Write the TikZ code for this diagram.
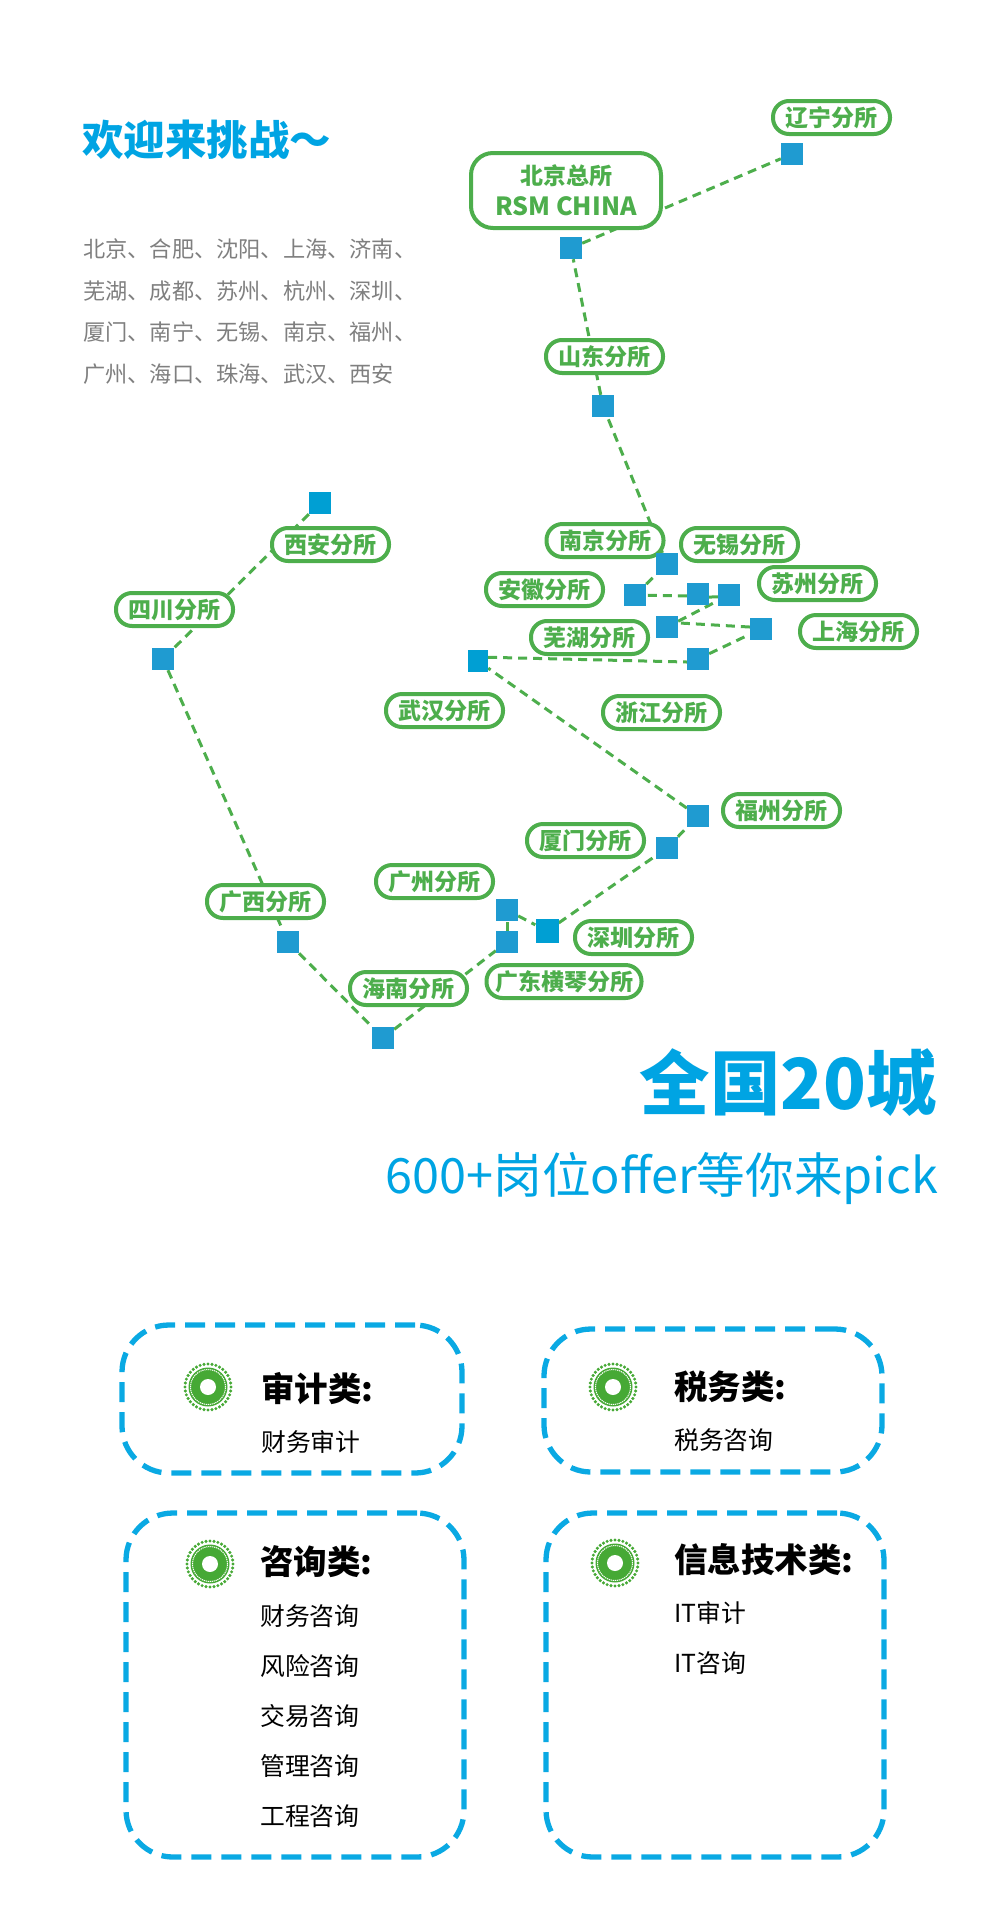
\documentclass[tikz,border=0pt]{standalone}
\usepackage{fontspec}
\setmainfont{Noto Sans CJK SC}
\definecolor{pg}{HTML}{4DAE4C}
\definecolor{sqa}{HTML}{1F9BD1}
\definecolor{sqb}{HTML}{009FD3}
\definecolor{tb}{HTML}{00A4E3}
\definecolor{db}{HTML}{0AA9E3}
\definecolor{ic}{HTML}{46A935}
\definecolor{gr}{HTML}{7F7F7F}
\pgfdeclarelayer{conn}
\pgfdeclarelayer{pill}
\pgfsetlayers{conn,pill,main}
\newcommand{\fs}[1]{\fontsize{#1}{#1}\selectfont}
\tikzset{
  x=1pt,y=-1pt,
  sq/.style={rectangle,fill=sqa,draw=none,inner sep=0,minimum width=22pt,minimum height=22pt},
  sqdark/.style={sq,fill=sqb},
  link/.style={draw=pg,line width=3pt,dash pattern=on 9pt off 6pt},
  pillbox/.style={rectangle,rounded corners=16pt,draw=pg,fill=white,line width=4pt,inner sep=0,
    minimum width=117pt,minimum height=33pt,text=pg,font=\fs{23}\bfseries},
  dbox/.style={rectangle,rounded corners=47pt,draw=db,line width=5.3pt,dash pattern=on 20pt off 10pt,inner sep=0},
  head/.style={anchor=west,font=\fs{33.5}\bfseries,text=black,inner sep=0},
  item/.style={anchor=west,font=\fs{24.8},text=black,inner sep=0},
  target/.pic={
    \fill[ic] (0,0) circle (19.5pt);
    \draw[white,line width=1pt,dash pattern=on 1.2pt off 0.8pt] (0,0) circle (17.5pt);
    \fill[white] (0,0) circle (8pt);
    \foreach \a in {0,10,...,350}{\fill[ic] (\a:23pt) circle (1.7pt);}
  }
}
\begin{document}
\begin{tikzpicture}
\useasboundingbox (0,0) rectangle (1000,1919);
% squares
\node[sqdark] (sXian) at (320,503) {};
\node[sq] (sSichuan) at (163,659) {};
\node[sq] (sGuangxi) at (288,942) {};
\node[sq] (sHainan) at (383,1038) {};
\node[sq] (sHengqin) at (507,942) {};
\node[sq] (sGuangzhou) at (507,910) {};
\node[sqdark,minimum width=23pt,minimum height=24pt] (sShenzhen) at (547,931) {};
\node[sq] (sXiamen) at (667,848) {};
\node[sq] (sFuzhou) at (698,816) {};
\node[sqdark,minimum width=20pt] (sWuhan) at (478,661) {};
\node[sq] (sZhejiang) at (698,659) {};
\node[sq] (sShanghai) at (761,629) {};
\node[sq] (sWuhu) at (667,627) {};
\node[sq] (sSuzhou) at (729,595) {};
\node[sq] (sWuxi) at (698,594) {};
\node[sq] (sAnhui) at (635,595) {};
\node[sq] (sNanjing) at (667,564) {};
\node[sq] (sShandong) at (603,406) {};
\node[sq] (sBeijing) at (571,248) {};
\node[sq] (sLiaoning) at (792,154) {};
\begin{pgfonlayer}{conn}
\draw[link] (sXian) -- (sSichuan);
\draw[link] (sSichuan) -- (sGuangxi);
\draw[link] (sGuangxi) -- (sHainan);
\draw[link] (sHainan) -- (sHengqin);
\draw[link] (sHengqin) -- (sGuangzhou);
\draw[link] (sGuangzhou) -- (sShenzhen);
\draw[link] (sShenzhen) -- (sXiamen);
\draw[link] (sXiamen) -- (sFuzhou);
\draw[link] (sFuzhou) -- (sWuhan);
\draw[link] (sWuhan.20) -- (sZhejiang.195);
\draw[link] (sZhejiang) -- (sShanghai);
\draw[link] (sShanghai.170) -- (sWuhu.20);
\draw[link] (sWuhu) -- (sSuzhou);
\draw[link] (sSuzhou.190) -- (sWuxi.-15);
\draw[link] (sWuxi.190) -- (sAnhui);
\draw[link] (sAnhui) -- (sNanjing);
\draw[link] (sNanjing) -- (sShandong);
\draw[link] (sShandong) -- (sBeijing);
\draw[link] (sBeijing) -- (sLiaoning);
\end{pgfonlayer}
\begin{pgfonlayer}{pill}
\node[pillbox] (pLiaoning) at (831.5,117.5) {辽宁分所};
\node[pillbox,minimum width=190pt,minimum height=75pt,rounded corners=22pt,align=center] (pBeijing) at (566,190.5) {北京总所\\[8pt]{\fs{25}RSM CHINA}};
\node[pillbox] (pShandong) at (604.5,356.5) {山东分所};
\node[pillbox] (pXian) at (330.5,544.5) {西安分所};
\node[pillbox] (pSichuan) at (174.5,609.5) {四川分所};
\node[pillbox] (pNanjing) at (605,540.5) {南京分所};
\node[pillbox] (pWuxi) at (739.5,544.5) {无锡分所};
\node[pillbox] (pSuzhou) at (817.5,583.5) {苏州分所};
\node[pillbox] (pAnhui) at (544.5,589.5) {安徽分所};
\node[pillbox] (pShanghai) at (858.5,631.5) {上海分所};
\node[pillbox] (pWuhu) at (589.5,637.5) {芜湖分所};
\node[pillbox] (pWuhan) at (444.5,710.5) {武汉分所};
\node[pillbox] (pZhejiang) at (661.5,712.5) {浙江分所};
\node[pillbox] (pFuzhou) at (781.5,810.5) {福州分所};
\node[pillbox] (pXiamen) at (585.5,840.5) {厦门分所};
\node[pillbox] (pGuangzhou) at (434.5,881.5) {广州分所};
\node[pillbox] (pGuangxi) at (265.5,901.5) {广西分所};
\node[pillbox] (pShenzhen) at (633.5,937.5) {深圳分所};
\node[pillbox,minimum width=155pt] (pHengqin) at (564,981.5) {广东横琴分所};
\node[pillbox] (pHainan) at (408.5,988.5) {海南分所};
\end{pgfonlayer}
% left text
\node[anchor=west,inner sep=0,text=tb,font=\fs{41.5}\bfseries] (welcome) at (82,140) {欢迎来挑战～};
\node[anchor=west,inner sep=0,text=gr,font=\fontsize{22.2}{41.7}\selectfont,align=left] (cities) at (83,311.5) {北京、合肥、沈阳、上海、济南、\\芜湖、成都、苏州、杭州、深圳、\\厦门、南宁、无锡、南京、福州、\\广州、海口、珠海、武汉、西安};
% headings
\node[anchor=east,inner sep=0,text=tb,font=\fs{70.4}\bfseries] (title) at (937,1083) {全国20城};
\node[anchor=east,inner sep=0,text=tb,font=\fs{48.6}] (subtitle) at (938,1178) {600+岗位offer等你来pick};
% boxes
\node[dbox,minimum width=340pt,minimum height=148pt] (bAudit) at (292,1399) {};
\node[dbox,minimum width=338pt,minimum height=143pt] (bTax) at (713,1400.5) {};
\node[dbox,minimum width=338pt,minimum height=344pt] (bConsult) at (295,1685) {};
\node[dbox,minimum width=338pt,minimum height=344pt] (bIT) at (715,1685) {};
\pic at (208,1387) {target};
\pic at (613,1387) {target};
\pic at (210,1564) {target};
\pic at (615,1563) {target};
\node[head] (tAudit) at (261,1389) {审计类:};
\node[item] (iAudit) at (261,1442) {财务审计};
\node[head] (tTax) at (674,1387) {税务类:};
\node[item] (iTax) at (674,1440) {税务咨询};
\node[head] (tConsult) at (260,1562) {咨询类:};
\node[item] (iC1) at (260,1616) {财务咨询};
\node[item] (iC2) at (260,1666) {风险咨询};
\node[item] (iC3) at (260,1716) {交易咨询};
\node[item] (iC4) at (260,1766) {管理咨询};
\node[item] (iC5) at (260,1816) {工程咨询};
\node[head] (tIT) at (674,1560) {信息技术类:};
\node[item] (iI1) at (674,1613) {IT审计};
\node[item] (iI2) at (674,1663) {IT咨询};
\end{tikzpicture}
\end{document}
